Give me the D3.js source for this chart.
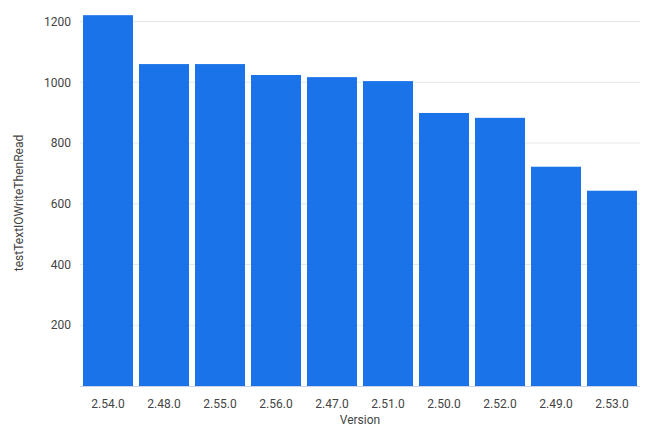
<!DOCTYPE html>
<html>
<head>
<meta charset="utf-8">
<script src="https://cdn.jsdelivr.net/npm/d3@7"></script>
<style>
  body { margin: 0; background: #fff; }
  text { font-family: Roboto, "Noto Sans", sans-serif; }
</style>
</head>
<body>
<div id="chart"></div>
<script>
// values
var versions = ["2.54.0", "2.48.0", "2.55.0", "2.56.0", "2.47.0", "2.51.0", "2.50.0", "2.52.0", "2.49.0", "2.53.0"];
var timings = [1221, 1060, 1060, 1024, 1017, 1004, 899, 883, 722, 643];
var yTicks = [200, 400, 600, 800, 1000, 1200];

var margin = {top: 0, right: 10, bottom: 56, left: 80},
    width = 650 - margin.left - margin.right,
    height = 442 - margin.top - margin.bottom;

var svg = d3.select("#chart").append("svg")
    .attr("width", 650)
    .attr("height", 442)
    .append("g")
    .attr("transform", "translate(" + margin.left + "," + margin.top + ")");

var x = d3.scaleBand().domain(versions).range([0, width])
    .paddingInner(0.107).paddingOuter(0.0536);
var y = d3.scaleLinear().domain([0, 1000]).range([height, 82.3]);

// grid lines
svg.append("g").selectAll("line")
    .data(yTicks)
    .enter().append("line")
    .attr("x1", 0).attr("x2", width)
    .attr("y1", d => y(d)).attr("y2", d => y(d))
    .attr("stroke", "#e6e6e6").attr("stroke-width", 1);

// y tick labels
svg.append("g").selectAll("text")
    .data(yTicks)
    .enter().append("text")
    .attr("x", -9).attr("y", d => y(d))
    .attr("dy", "0.35em")
    .attr("text-anchor", "end")
    .attr("font-size", 12)
    .attr("fill", "#444")
    .text(d => d);

// bars
svg.append("g").selectAll("rect")
    .data(versions)
    .enter().append("rect")
    .attr("x", d => x(d))
    .attr("width", x.bandwidth())
    .attr("y", (d, i) => y(timings[i]))
    .attr("height", (d, i) => y(0) - y(timings[i]))
    .attr("fill", "#1a73e8");

// x axis line
svg.append("line")
    .attr("x1", 0).attr("x2", width)
    .attr("y1", y(0) + 0.5).attr("y2", y(0) + 0.5)
    .attr("stroke", "#c6d2e6").attr("stroke-width", 1);

// x tick labels
svg.append("g").selectAll("text")
    .data(versions)
    .enter().append("text")
    .attr("x", d => x(d) + x.bandwidth() / 2)
    .attr("y", y(0) + 18)
    .attr("dy", "0.35em")
    .attr("text-anchor", "middle")
    .attr("font-size", 12)
    .attr("fill", "#444")
    .text(d => d);

// axis titles
svg.append("text")
    .attr("x", width / 2).attr("y", y(0) + 38)
    .attr("text-anchor", "middle")
    .attr("font-size", 12)
    .attr("fill", "#444")
    .text("Version");

svg.append("text")
    .attr("transform", "translate(" + (-57) + "," + (y(0) / 2 + 10) + ") rotate(-90)")
    .attr("text-anchor", "middle")
    .attr("font-size", 12)
    .attr("fill", "#444")
    .text("testTextIOWriteThenRead");
</script>
</body>
</html>
